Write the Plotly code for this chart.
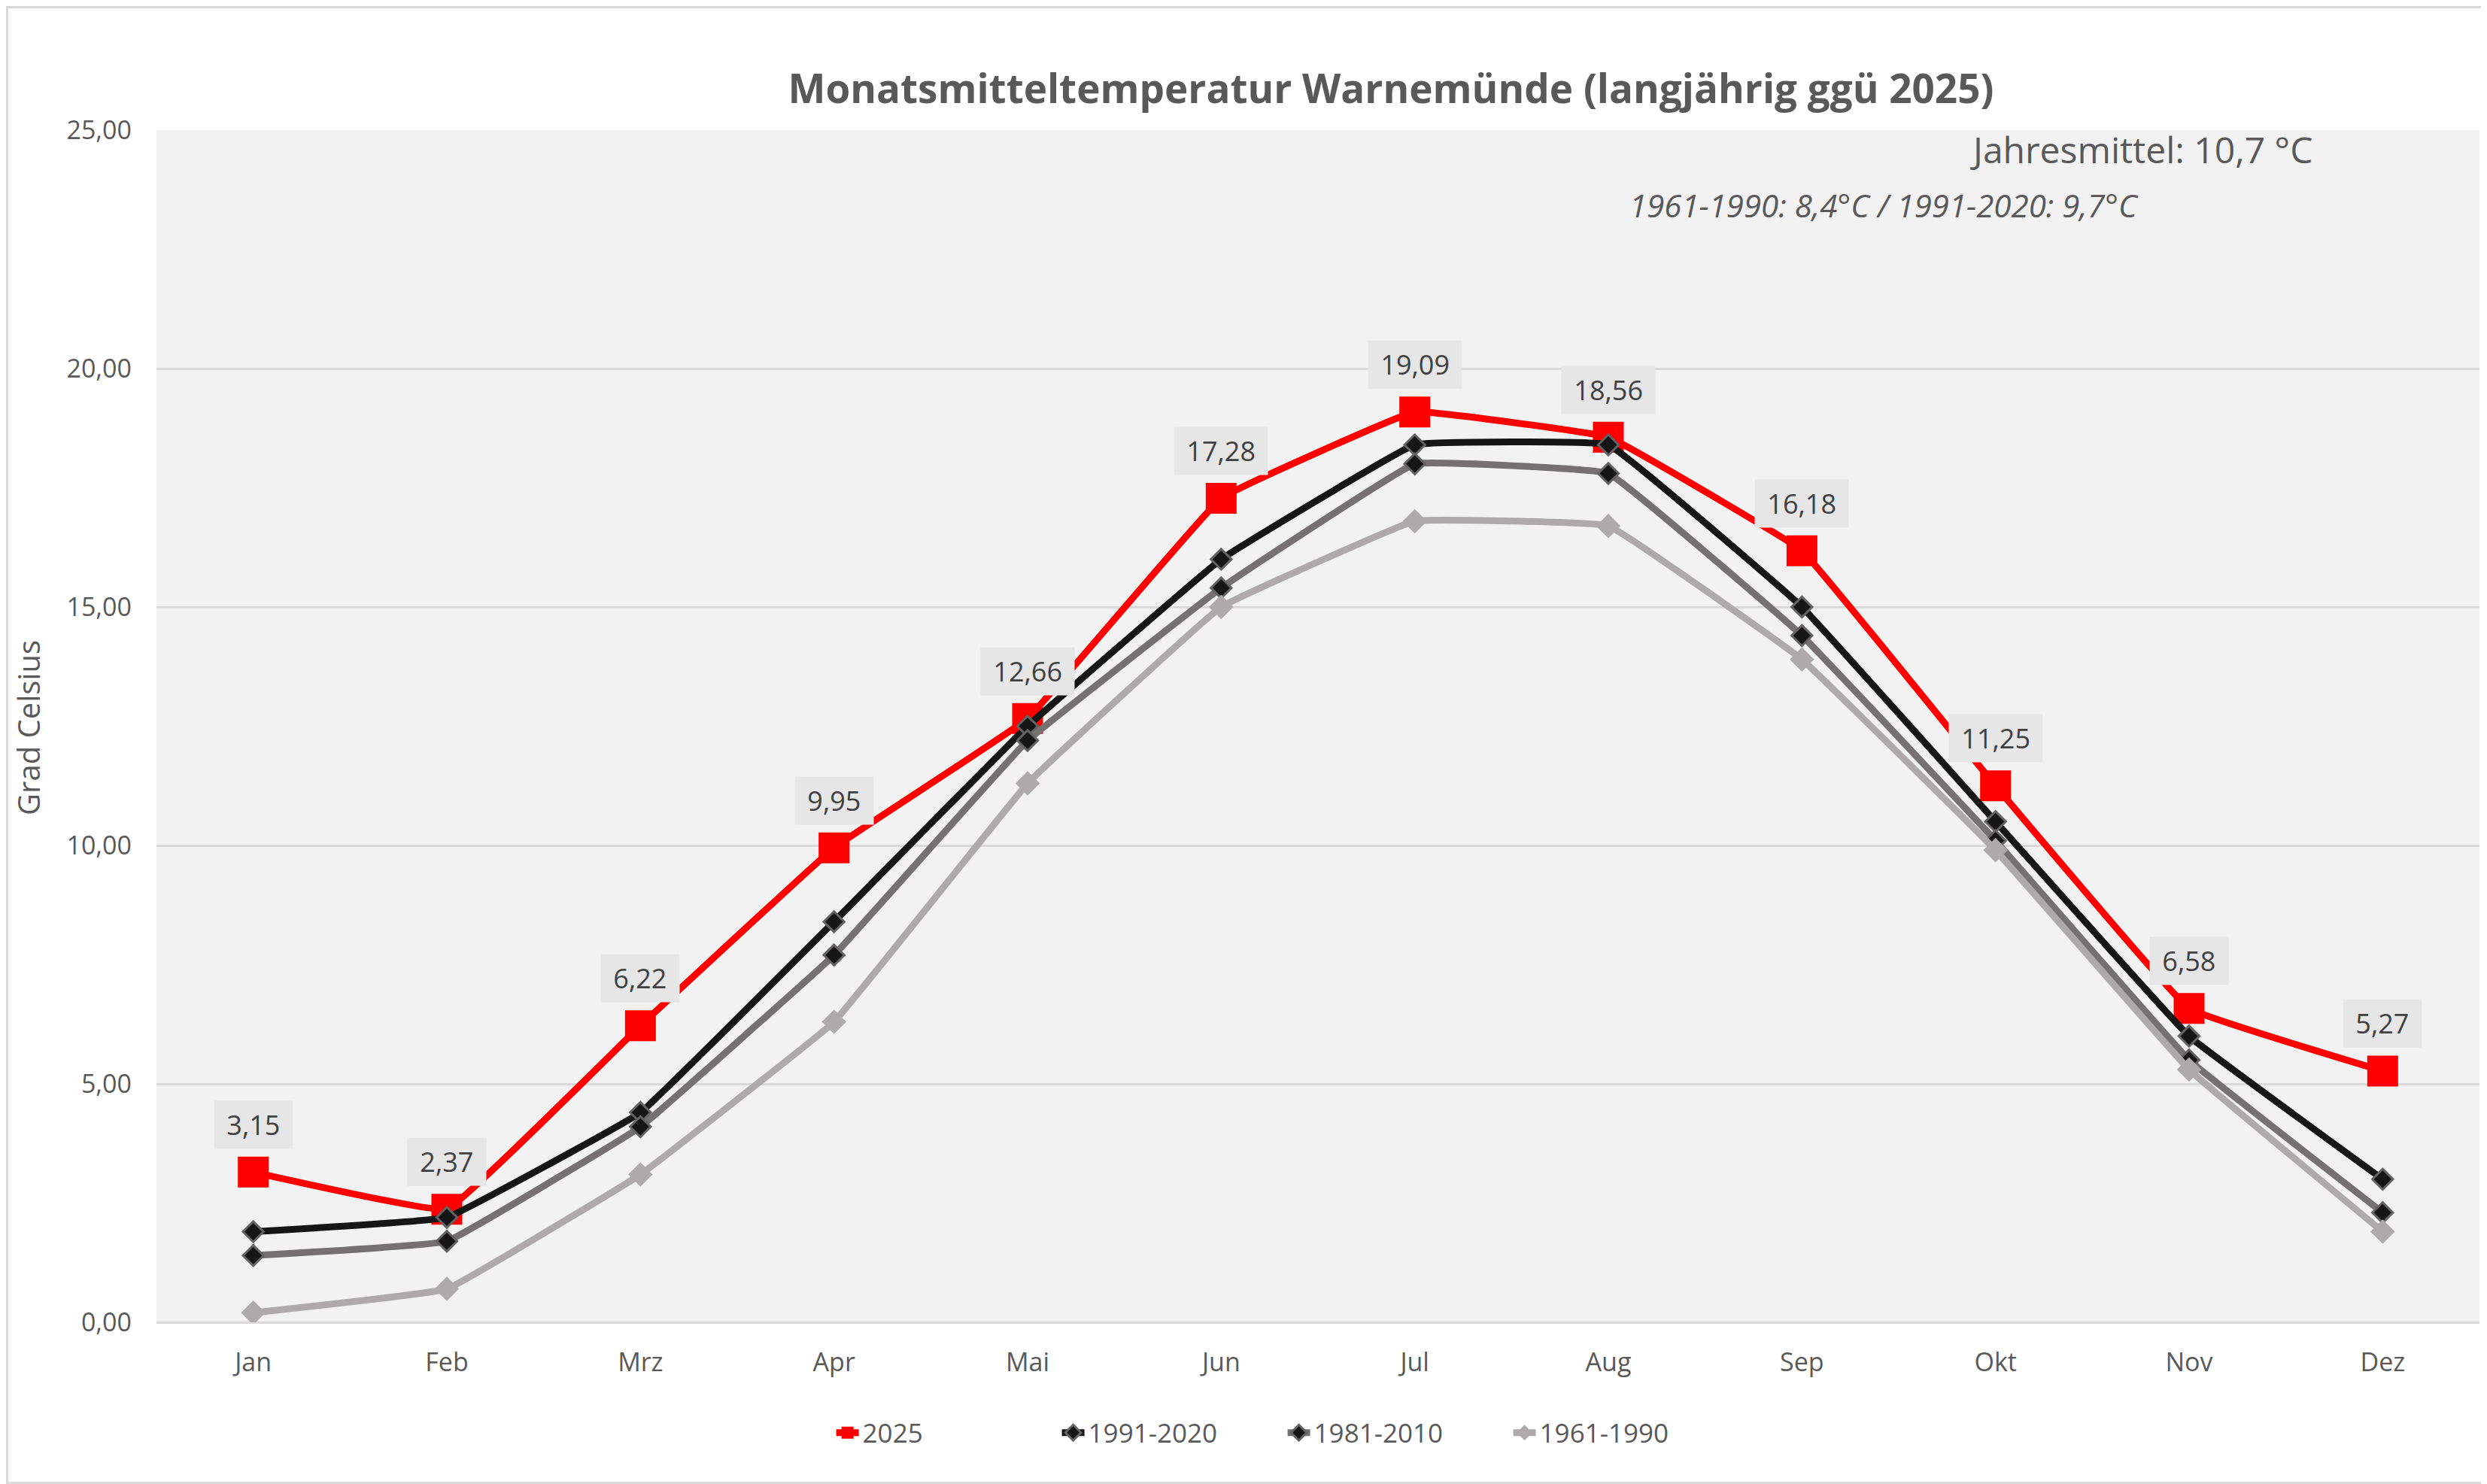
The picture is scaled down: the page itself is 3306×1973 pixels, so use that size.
import plotly.graph_objects as go

months = ["Jan", "Feb", "Mrz", "Apr", "Mai", "Jun", "Jul", "Aug", "Sep", "Okt", "Nov", "Dez"]
t2025 = [3.15, 2.37, 6.22, 9.95, 12.66, 17.28, 19.09, 18.56, 16.18, 11.25, 6.58, 5.27]
t1991_2020 = [1.9, 2.2, 4.4, 8.4, 12.5, 16.0, 18.4, 18.4, 15.0, 10.5, 6.0, 3.0]
t1981_2010 = [1.4, 1.7, 4.1, 7.7, 12.2, 15.4, 18.0, 17.8, 14.4, 10.1, 5.5, 2.3]
t1961_1990 = [0.2, 0.7, 3.1, 6.3, 11.3, 15.0, 16.8, 16.7, 13.9, 9.9, 5.3, 1.9]

title_text = "Monatsmitteltemperatur Warnemünde (langjährig ggü 2025)"
yaxis_title = "Grad Celsius"
note1 = "Jahresmittel: 10,7 °C"
note2 = "1961-1990: 8,4°C / 1991-2020: 9,7°C"

FONT = "Open Sans"
TXT = "#595959"
SMOOTH = 0.2

fig = go.Figure()

fig.add_trace(go.Scatter(
    x=months, y=t2025, name="2025", mode="lines+markers",
    line=dict(color="#FF0000", width=9, shape="spline", smoothing=SMOOTH),
    marker=dict(symbol="square", size=41, color="#FF0000"),
))
fig.add_trace(go.Scatter(
    x=months, y=t1991_2020, name="1991-2020", mode="lines+markers",
    line=dict(color="#161616", width=9, shape="spline", smoothing=SMOOTH),
    marker=dict(symbol="diamond", size=21, color="#161616", line=dict(color="#636363", width=3)),
))
fig.add_trace(go.Scatter(
    x=months, y=t1981_2010, name="1981-2010", mode="lines+markers",
    line=dict(color="#767171", width=9, shape="spline", smoothing=SMOOTH),
    marker=dict(symbol="diamond", size=21, color="#161616", line=dict(color="#636363", width=3)),
))
fig.add_trace(go.Scatter(
    x=months, y=t1961_1990, name="1961-1990", mode="lines+markers",
    line=dict(color="#AEAAAA", width=9, shape="spline", smoothing=SMOOTH),
    marker=dict(symbol="diamond", size=25, color="#AEAAAA"),
))

annotations = []
for m, v in zip(months, t2025):
    annotations.append(dict(
        x=m, y=v, xref="x", yref="y", showarrow=False,
        text="\u00a0" + f"{v:.2f}".replace(".", ",") + "\u00a0",
        font=dict(family=FONT, size=36, color="#404040"),
        bgcolor="#E6E6E6", borderpad=7, yshift=63,
    ))

annotations.append(dict(
    x=0.9288, y=0.9836, xref="paper", yref="paper", xanchor="right", yanchor="middle",
    showarrow=False, text=note1, font=dict(family=FONT, size=48, color=TXT),
))
annotations.append(dict(
    x=0.854, y=0.9375, xref="paper", yref="paper", xanchor="right", yanchor="middle",
    showarrow=False, text="<i>" + note2 + "</i>", font=dict(family=FONT, size=42, color=TXT),
))
annotations.append(dict(
    x=-0.0554, y=0.499, xref="paper", yref="paper", xanchor="center", yanchor="middle",
    showarrow=False, text=yaxis_title, textangle=-90, font=dict(family=FONT, size=40, color=TXT),
))

fig.update_layout(
    width=3298, height=1965,
    margin=dict(l=200, r=10, t=165, b=215),
    paper_bgcolor="white", plot_bgcolor="#F2F2F2",
    separators=",.",
    font=dict(family=FONT, color=TXT),
    title=dict(text="<b>" + title_text + "</b>", x=0.5582, xref="container", xanchor="center",
               y=1 - 110 / 1965, yref="container", yanchor="middle",
               font=dict(family=FONT, size=53, color=TXT)),
    xaxis=dict(showgrid=False, showline=False, zeroline=False, ticks="",
               tickfont=dict(family=FONT, size=34, color=TXT), ticklabelstandoff=30,
               range=[-0.5, 11.5]),
    yaxis=dict(range=[0, 25], dtick=5, tickformat=".2f", showgrid=True, gridcolor="#D9D9D9",
               gridwidth=3, zeroline=True, zerolinecolor="#D9D9D9", zerolinewidth=3,
               showline=False, ticks="", ticklabelstandoff=32,
               tickfont=dict(family=FONT, size=34, color=TXT)),
    legend=dict(orientation="h", x=0.291, xanchor="left", y=-0.0927, yanchor="middle",
                font=dict(family=FONT, size=35, color=TXT), bgcolor="rgba(0,0,0,0)",
                itemsizing="trace", entrywidth=255),
    annotations=annotations,
    shapes=[dict(type="rect", xref="paper", yref="paper",
                 x0=-0.0643, x1=1.00275, y0=-0.1347, y1=1.1032,
                 line=dict(color="#D9D9D9", width=3), fillcolor="rgba(0,0,0,0)", layer="above")],
)

fig.write_html("out.html")
